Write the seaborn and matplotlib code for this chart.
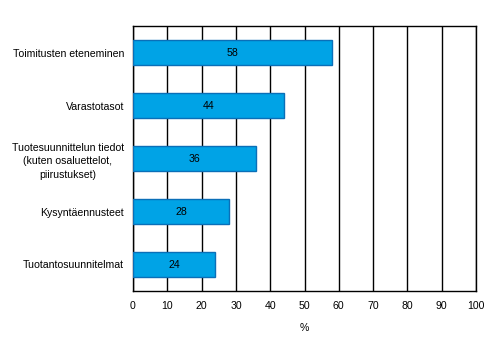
import matplotlib
matplotlib.use("Agg")
import matplotlib.pyplot as plt
import seaborn as sns
import pandas as pd

categories = [
    "Toimitusten eteneminen",
    "Varastotasot",
    "Tuotesuunnittelun tiedot\n(kuten osaluettelot,\npiirustukset)",
    "Kysyntäennusteet",
    "Tuotantosuunnitelmat",
]
values = [58, 44, 36, 28, 24]
xticks = list(range(0, 101, 10))

df = pd.DataFrame({"kategoria": categories, "arvo": values})

sns.set_theme(style="white")
plt.rcParams["font.family"] = ["Liberation Sans", "DejaVu Sans"]
plt.rcParams["font.size"] = 7.6
plt.rcParams["text.color"] = "black"
plt.rcParams["xtick.color"] = "black"
plt.rcParams["ytick.color"] = "black"
plt.rcParams["axes.labelcolor"] = "black"

fig = plt.figure(figsize=(4.92, 3.51), dpi=100)
ax = fig.add_axes([133 / 492, 60 / 351, 343 / 492, 265 / 351])
ax.set_axisbelow(True)

sns.barplot(data=df, x="arvo", y="kategoria", orient="h", ax=ax,
            color="#00a3e6", edgecolor="#0a6fb8", linewidth=1, width=0.47,
            saturation=1, zorder=3)

for p, v in zip(ax.patches, values):
    ax.text(v / 2, p.get_y() + p.get_height() / 2, str(v),
            ha="center", va="center", fontsize=7.6, color="black", zorder=4)

ax.set_xlim(0, 100)
ax.set_ylim(4.5, -0.5)
ax.set_xticks(xticks)
ax.set_xticklabels([str(t) for t in xticks], fontsize=7.6)
ax.tick_params(axis="x", direction="out", length=3, width=1, color="black", pad=4)
ax.tick_params(axis="y", length=0, pad=6.5, labelsize=7.6)
for lbl in ax.get_yticklabels():
    lbl.set_multialignment("center")
    lbl.set_linespacing(1.45)
ax.xaxis.grid(True, color="black", linewidth=1)
ax.yaxis.grid(False)
for s in ax.spines.values():
    s.set_color("black")
    s.set_linewidth(1)
ax.set_xlabel("%", fontsize=7.6, labelpad=9)
ax.set_ylabel("")

fig.savefig("out.png", dpi=100, facecolor="white")
